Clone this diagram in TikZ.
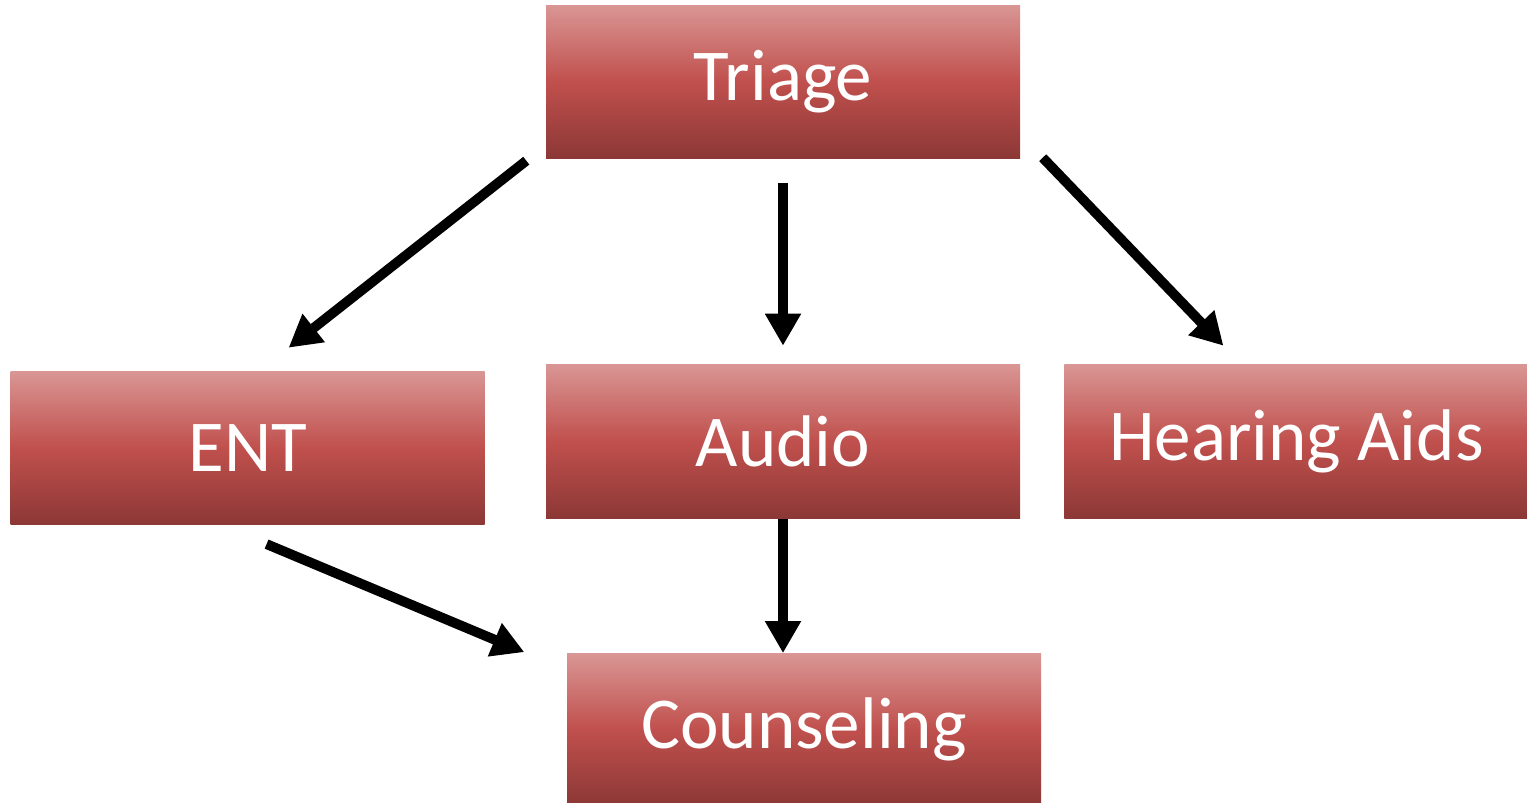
\documentclass[tikz,border=0pt]{standalone}
\usepackage{fontspec}
\setmainfont{Carlito}
\usepackage{tikz}
\usetikzlibrary{arrows.meta, positioning}

\definecolor{boxtop}{HTML}{D99694}
\definecolor{boxmid}{HTML}{C0504D}
\definecolor{boxbot}{HTML}{8C3836}

\begin{document}
\begin{tikzpicture}[
    box/.style={rectangle, top color=boxtop, bottom color=boxbot, middle color=boxmid, draw=none, minimum width=4.74cm, minimum height=1.53cm, align=center, text=white, font=\fontsize{20.8}{25}\selectfont},
    arrow/.style={-{Triangle[length=0.32cm, width=0.34cm]}, line width=2.8pt, black}
]
\useasboundingbox (0,0) rectangle (15.27,-8.02);

\node[box] (triage) at (7.83,-0.815) {Triage};
\node[box, below=2.05cm of triage, minimum height=1.54cm] (audio) {Audio};
\node[box, left=0.6cm of audio, yshift=-0.065cm] (ent) {ENT};
\node[box, right=0.43cm of audio, minimum width=4.64cm, minimum height=1.54cm] (aids) {Hearing Aids};
\node[box, below=1.34cm of audio, xshift=0.21cm, minimum height=1.51cm] (counsel) {Counseling};

\draw[arrow] ([xshift=-0.19cm, yshift=-0.02cm]triage.south west) -- ([xshift=0.41cm, yshift=0.23cm]ent.north);
\draw[arrow] ([yshift=-0.24cm]triage.south) -- ([yshift=0.18cm]audio.north);
\draw[arrow] ([xshift=0.22cm, yshift=0.01cm]triage.south east) -- ([xshift=-0.73cm, yshift=0.18cm]aids.north);
\draw[arrow] ([xshift=0.19cm, yshift=-0.19cm]ent.south) -- ([xshift=-0.42cm, yshift=0.01cm]counsel.north west);
\draw[arrow] (audio.south) -- ([xshift=-0.21cm]counsel.north);

\end{tikzpicture}
\end{document}
